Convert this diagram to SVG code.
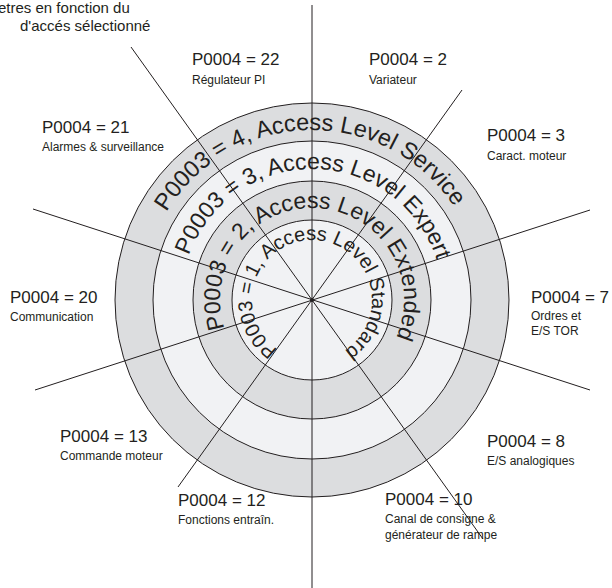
<svg xmlns="http://www.w3.org/2000/svg" xmlns:xlink="http://www.w3.org/1999/xlink" width="612" height="588" viewBox="0 0 612 588">
<style>
text{font-family:"Liberation Sans",Arial,sans-serif;fill:#231f20}
.big{font-size:17px}
.small{font-size:12px}
.title{font-size:15px}
.ring{font-size:23px}
.gray{fill:#dcdddf;stroke:#231f20;stroke-width:1}
.light{fill:#f1f2f4;stroke:#231f20;stroke-width:1}
.ln{stroke:#231f20;stroke-width:1;fill:none}
</style>
<defs>
<path id="p4" d="M312,470 A170,170 0 0 1 312,130 A170,170 0 0 1 312,470"/>
<path id="p3" d="M312,431 A131,131 0 0 1 312,169 A131,131 0 0 1 312,431"/>
<path id="p2" d="M312,392 A92,92 0 0 1 312,208 A92,92 0 0 1 312,392"/>
<path id="p1" d="M312,360 A60,60 0 0 1 312,240 A60,60 0 0 1 312,360"/>
</defs>
<rect width="612" height="588" fill="#fff"/>
<g id="title">
<text class="title" x="-2" y="13">etres en fonction du</text>
<text class="title" x="20" y="31">d'accés sélectionné</text>
</g>
<g id="rings">
<circle class="gray" cx="312" cy="300" r="197"/>
<circle class="light" cx="312" cy="300" r="159"/>
<circle class="gray" cx="312" cy="300" r="119"/>
<circle class="light" cx="312" cy="300" r="80"/>
</g>
<g id="connectors">
<line class="ln" x1="312" y1="5" x2="312" y2="588"/>
<line class="ln" x1="131" y1="47" x2="483" y2="539"/>
<line class="ln" x1="462" y1="90" x2="178" y2="487"/>
<line class="ln" x1="33" y1="209" x2="590" y2="390"/>
<line class="ln" x1="35" y1="390" x2="590" y2="210"/>
<circle cx="312" cy="300" r="2" fill="#231f20"/>
</g>
<g id="level4" transform="rotate(-1 312 300)"><text class="ring" style="font-size:23.5px"><textPath xlink:href="#p4" href="#p4" startOffset="50%" text-anchor="middle">P0003 = 4, Access Level Service</textPath></text></g>
<g id="level3" transform="rotate(1 312 300)"><text class="ring"><textPath xlink:href="#p3" href="#p3" startOffset="50%" text-anchor="middle">P0003 = 3, Access Level Expert</textPath></text></g>
<g id="level2" transform="rotate(3 312 300)"><text class="ring"><textPath xlink:href="#p2" href="#p2" startOffset="50%" text-anchor="middle">P0003 = 2, Access Level Extended</textPath></text></g>
<g id="level1" transform="rotate(1 312 300)"><text class="ring" style="font-size:20px"><textPath xlink:href="#p1" href="#p1" startOffset="50%" text-anchor="middle">P0003 = 1, Access Level Standard</textPath></text></g>
<g id="n22"><text class="big" x="192" y="65">P0004 = 22</text><text class="small" x="192" y="84">Régulateur PI</text></g>
<g id="n2"><text class="big" x="369" y="65">P0004 = 2</text><text class="small" x="369" y="84">Variateur</text></g>
<g id="n21"><text class="big" x="42" y="133">P0004 = 21</text><text class="small" x="42" y="151">Alarmes &amp; surveillance</text></g>
<g id="n3"><text class="big" x="487" y="141">P0004 = 3</text><text class="small" x="487" y="160">Caract. moteur</text></g>
<g id="n20"><text class="big" x="10" y="303">P0004 = 20</text><text class="small" x="10" y="321">Communication</text></g>
<g id="n7"><text class="big" x="531" y="303">P0004 = 7</text><text class="small" x="531" y="320">Ordres et</text><text class="small" x="531" y="335">E/S TOR</text></g>
<g id="n13"><text class="big" x="60" y="442">P0004 = 13</text><text class="small" x="60" y="460">Commande moteur</text></g>
<g id="n8"><text class="big" x="487" y="447">P0004 = 8</text><text class="small" x="487" y="465">E/S analogiques</text></g>
<g id="n12"><text class="big" x="178" y="506">P0004 = 12</text><text class="small" x="178" y="524">Fonctions entraîn.</text></g>
<g id="n10"><text class="big" x="385" y="505">P0004 = 10</text><text class="small" x="385" y="523">Canal de consigne &amp;</text><text class="small" x="385" y="539">générateur de rampe</text></g>
</svg>
